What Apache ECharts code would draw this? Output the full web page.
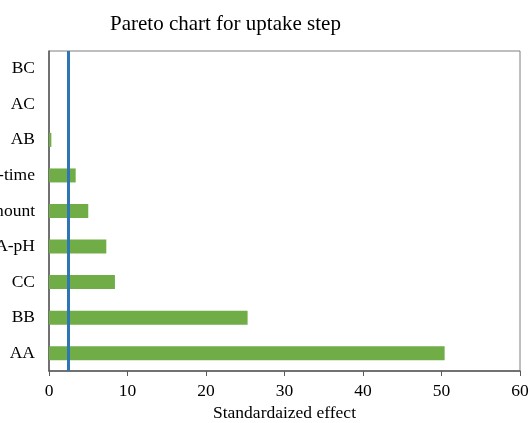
<!DOCTYPE html>
<html>
<head>
<meta charset="utf-8">
<script src="https://cdn.jsdelivr.net/npm/echarts@6/dist/echarts.min.js"></script>
<style>html,body{margin:0;padding:0;background:#fff}#c{width:530px;height:423px}</style>
</head>
<body>
<div id="c"></div>
<script>
const categories = ["AA", "BB", "CC", "A-pH", "B-amount", "C-time", "AB", "AC", "BC"];
const effects = [50.4, 25.3, 8.4, 7.3, 5.0, 3.4, 0.3, 0, 0];
const criticalValue = 2.45;
const xTicks = [0, 10, 20, 30, 40, 50, 60];

const chart = echarts.init(document.getElementById('c'));
const font = 'Liberation Serif';
chart.setOption({
  animation: false,
  title: {
    text: 'Pareto chart for uptake step',
    left: 105, top: 9,
    textStyle: {fontFamily: font, fontSize: 21, fontWeight: 'normal', color: '#000'}
  },
  grid: {left: 49, right: 10, top: 51, bottom: 52, show: true, borderColor: '#7f7f7f', borderWidth: 1,
         containLabel: false, outerBoundsMode: 'none'},
  xAxis: {
    type: 'value', min: xTicks[0], max: xTicks[xTicks.length - 1], interval: 10,
    name: 'Standardaized effect', nameLocation: 'middle', nameGap: 32,
    nameTextStyle: {fontFamily: font, fontSize: 17.5, color: '#000'},
    axisLine: {show: true, lineStyle: {color: '#595959', width: 1.5}},
    axisTick: {show: true, inside: false, length: 5, lineStyle: {color: '#595959'}},
    axisLabel: {fontFamily: font, fontSize: 17.5, color: '#000', margin: 11},
    splitLine: {show: false}
  },
  yAxis: {
    type: 'category', data: categories,
    axisLine: {show: true, lineStyle: {color: '#595959', width: 1.5}},
    axisTick: {show: false},
    axisLabel: {fontFamily: font, fontSize: 17.5, color: '#000', margin: 14}
  },
  series: [{
    type: 'bar', data: effects, barWidth: 14,
    itemStyle: {color: '#70AD47'},
    markLine: {
      silent: true, symbol: 'none', label: {show: false},
      lineStyle: {color: '#2E75B6', width: 3, type: 'solid'},
      data: [{xAxis: criticalValue}]
    }
  }]
});
</script>
</body>
</html>
